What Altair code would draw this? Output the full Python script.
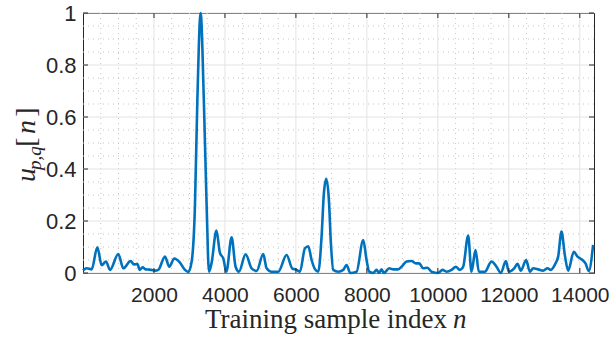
import altair as alt
import pandas as pd

# ---- data ----
n_vals = [0, 104, 245, 404, 526, 648, 760, 995, 1136, 1343, 1437, 1530, 1600, 1681, 1765,
          1880, 2028, 2122, 2310, 2432, 2573, 2733, 2873, 2967, 3062, 3155, 3220, 3315,
          3408, 3484, 3550, 3625, 3760, 3859, 3953, 4040, 4188, 4300, 4394, 4583, 4751,
          4893, 5080, 5174, 5315, 5503, 5738, 5895, 6019, 6113, 6254, 6348, 6442, 6536,
          6630, 6723, 6788, 6855, 6930, 6986, 7052, 7193, 7333, 7427, 7530, 7709, 7897,
          7991, 8066, 8178, 8272, 8340, 8414, 8479, 8630, 8742, 8883, 8977, 9118, 9259,
          9381, 9474, 9587, 9700, 9822, 10010, 10132, 10245, 10386, 10507, 10620, 10713,
          10854, 10948, 11061, 11155, 11324, 11512, 11653, 11775, 11916, 12000, 12150,
          12244, 12338, 12488, 12592, 12686, 12827, 12968, 13090, 13183, 13315, 13390,
          13484, 13578, 13672, 13831, 13935, 14047, 14160, 14253, 14375]
u_vals = [0.010, 0.018, 0.014, 0.099, 0.030, 0.044, 0.012, 0.073, 0.018, 0.046, 0.033,
          0.035, 0.012, 0.022, 0.014, 0.013, 0.009, 0.012, 0.063, 0.024, 0.056, 0.040,
          0.012, 0.004, 0.044, 0.26, 0.65, 1.0, 0.65, 0.26, 0.005, 0.04, 0.163, 0.077,
          0.056, 0.005, 0.137, 0.024, 0.005, 0.072, 0.018, 0.008, 0.073, 0.018, 0.005,
          0.005, 0.069, 0.018, 0.012, 0.005, 0.095, 0.103, 0.050, 0.015, 0.005, 0.14,
          0.306, 0.362, 0.28, 0.114, 0.012, 0.005, 0.012, 0.031, 0.0, 0.005, 0.127, 0.05,
          0.005, 0.0, 0.012, 0.0, 0.014, 0.0, 0.018, 0.014, 0.014, 0.024, 0.044, 0.046,
          0.037, 0.037, 0.018, 0.020, 0.005, 0.0, 0.012, 0.005, 0.012, 0.024, 0.012,
          0.024, 0.144, 0.005, 0.088, 0.005, 0.005, 0.044, 0.024, 0.0, 0.046, 0.005,
          0.018, 0.035, 0.009, 0.05, 0.005, 0.018, 0.014, 0.009, 0.018, 0.012, 0.037,
          0.063, 0.159, 0.069, 0.009, 0.082, 0.063, 0.053, 0.037, 0.008, 0.108]

x_major = [2000, 4000, 6000, 8000, 10000, 12000, 14000]
y_major = [0, 0.2, 0.4, 0.6, 0.8, 1.0]
x_minor = [v for v in range(500, 14400, 500) if v % 2000 != 0]
y_minor = [0.05, 0.1, 0.15, 0.25, 0.3, 0.35, 0.45, 0.5, 0.55, 0.65, 0.7, 0.75, 0.85, 0.9, 0.95]

x_title = "Training sample index"
x_title_var = "n"

W, H = 511, 260
xs = alt.Scale(domain=[0, 14400], nice=False, zero=False)
ys = alt.Scale(domain=[0, 1], nice=False)

df = pd.DataFrame({"n": n_vals, "u": u_vals})

xaxis = alt.Axis(values=x_major, format="d", labelFontSize=21, labelFont="Liberation Sans",
                 labelColor="#262626", domain=False, ticks=False, grid=False,
                 labelPadding=11, title=None, labelFlush=False)
yaxis = alt.Axis(values=y_major, format="~g", labelFontSize=22, labelFont="Liberation Sans",
                 labelColor="#262626", domain=False, ticks=False, grid=False,
                 labelPadding=7, title=None)

def X(f):
    return alt.X(f, scale=xs, axis=xaxis)

def Y(f):
    return alt.Y(f, scale=ys, axis=yaxis)

minor_x = alt.Chart(pd.DataFrame({"v": x_minor})).mark_rule(
    color="#c4c4c4", strokeDash=[1, 4], strokeWidth=1).encode(x=X("v:Q"))
minor_y = alt.Chart(pd.DataFrame({"v": y_minor})).mark_rule(
    color="#c4c4c4", strokeDash=[1, 4], strokeWidth=1).encode(y=Y("v:Q"))
major_x = alt.Chart(pd.DataFrame({"v": x_major})).mark_rule(
    color="#e3e3e3", strokeWidth=1).encode(x=X("v:Q"))
major_y = alt.Chart(pd.DataFrame({"v": y_major})).mark_rule(
    color="#e3e3e3", strokeWidth=1).encode(y=Y("v:Q"))

line = alt.Chart(df).mark_line(color="#0072BD", strokeWidth=2.6, interpolate="monotone").encode(
    x=X("n:Q"),
    y=Y("u:Q"),
)

tickcol = "#262626"
tx = pd.DataFrame({"v": x_major})
ty = pd.DataFrame({"v": y_major})
tick_b = alt.Chart(tx).mark_rule(color=tickcol).encode(
    x=X("v:Q"), y=alt.value(H), y2=alt.value(H - 5))
tick_t = alt.Chart(tx).mark_rule(color=tickcol).encode(
    x=X("v:Q"), y=alt.value(0), y2=alt.value(5))
tick_l = alt.Chart(ty).mark_rule(color=tickcol).encode(
    y=Y("v:Q"), x=alt.value(0), x2=alt.value(5))
tick_r = alt.Chart(ty).mark_rule(color=tickcol).encode(
    y=Y("v:Q"), x=alt.value(W), x2=alt.value(W - 5))

one = pd.DataFrame({"a": [0]})

def txt(text, x, y, size, style="normal", angle=0, align="left", baseline="alphabetic"):
    return alt.Chart(one).mark_text(
        text=text, font="Liberation Serif", fontSize=size, fontStyle=style,
        color="#262626", angle=angle, align=align, baseline=baseline,
    ).encode(x=alt.value(x), y=alt.value(y))

xt1 = txt(x_title, 364, 315, 27, align="right")
xt2 = txt(x_title_var, 370, 315, 27, style="italic", align="left")

yt = [
    txt("u", -48, 162, 28, style="italic", angle=270, align="center"),
    txt("p,q", -42, 145, 19, style="italic", angle=270, align="center"),
    txt("[", -48, 129, 28, angle=270, align="center"),
    txt("n", -48, 114, 28, style="italic", angle=270, align="center"),
    txt("]", -48, 99, 28, angle=270, align="center"),
]

chart = alt.layer(
    minor_x, minor_y, major_x, major_y, line,
    tick_b, tick_t, tick_l, tick_r, xt1, xt2, *yt
).properties(
    width=W, height=H,
    autosize=alt.AutoSizeParams(type="none"),
    padding={"left": 83, "top": 13, "right": 15, "bottom": 70},
    background="white",
).configure_view(stroke="#262626", strokeWidth=1)

chart.save("out.html", embed_options={"renderer": "svg", "actions": False})
